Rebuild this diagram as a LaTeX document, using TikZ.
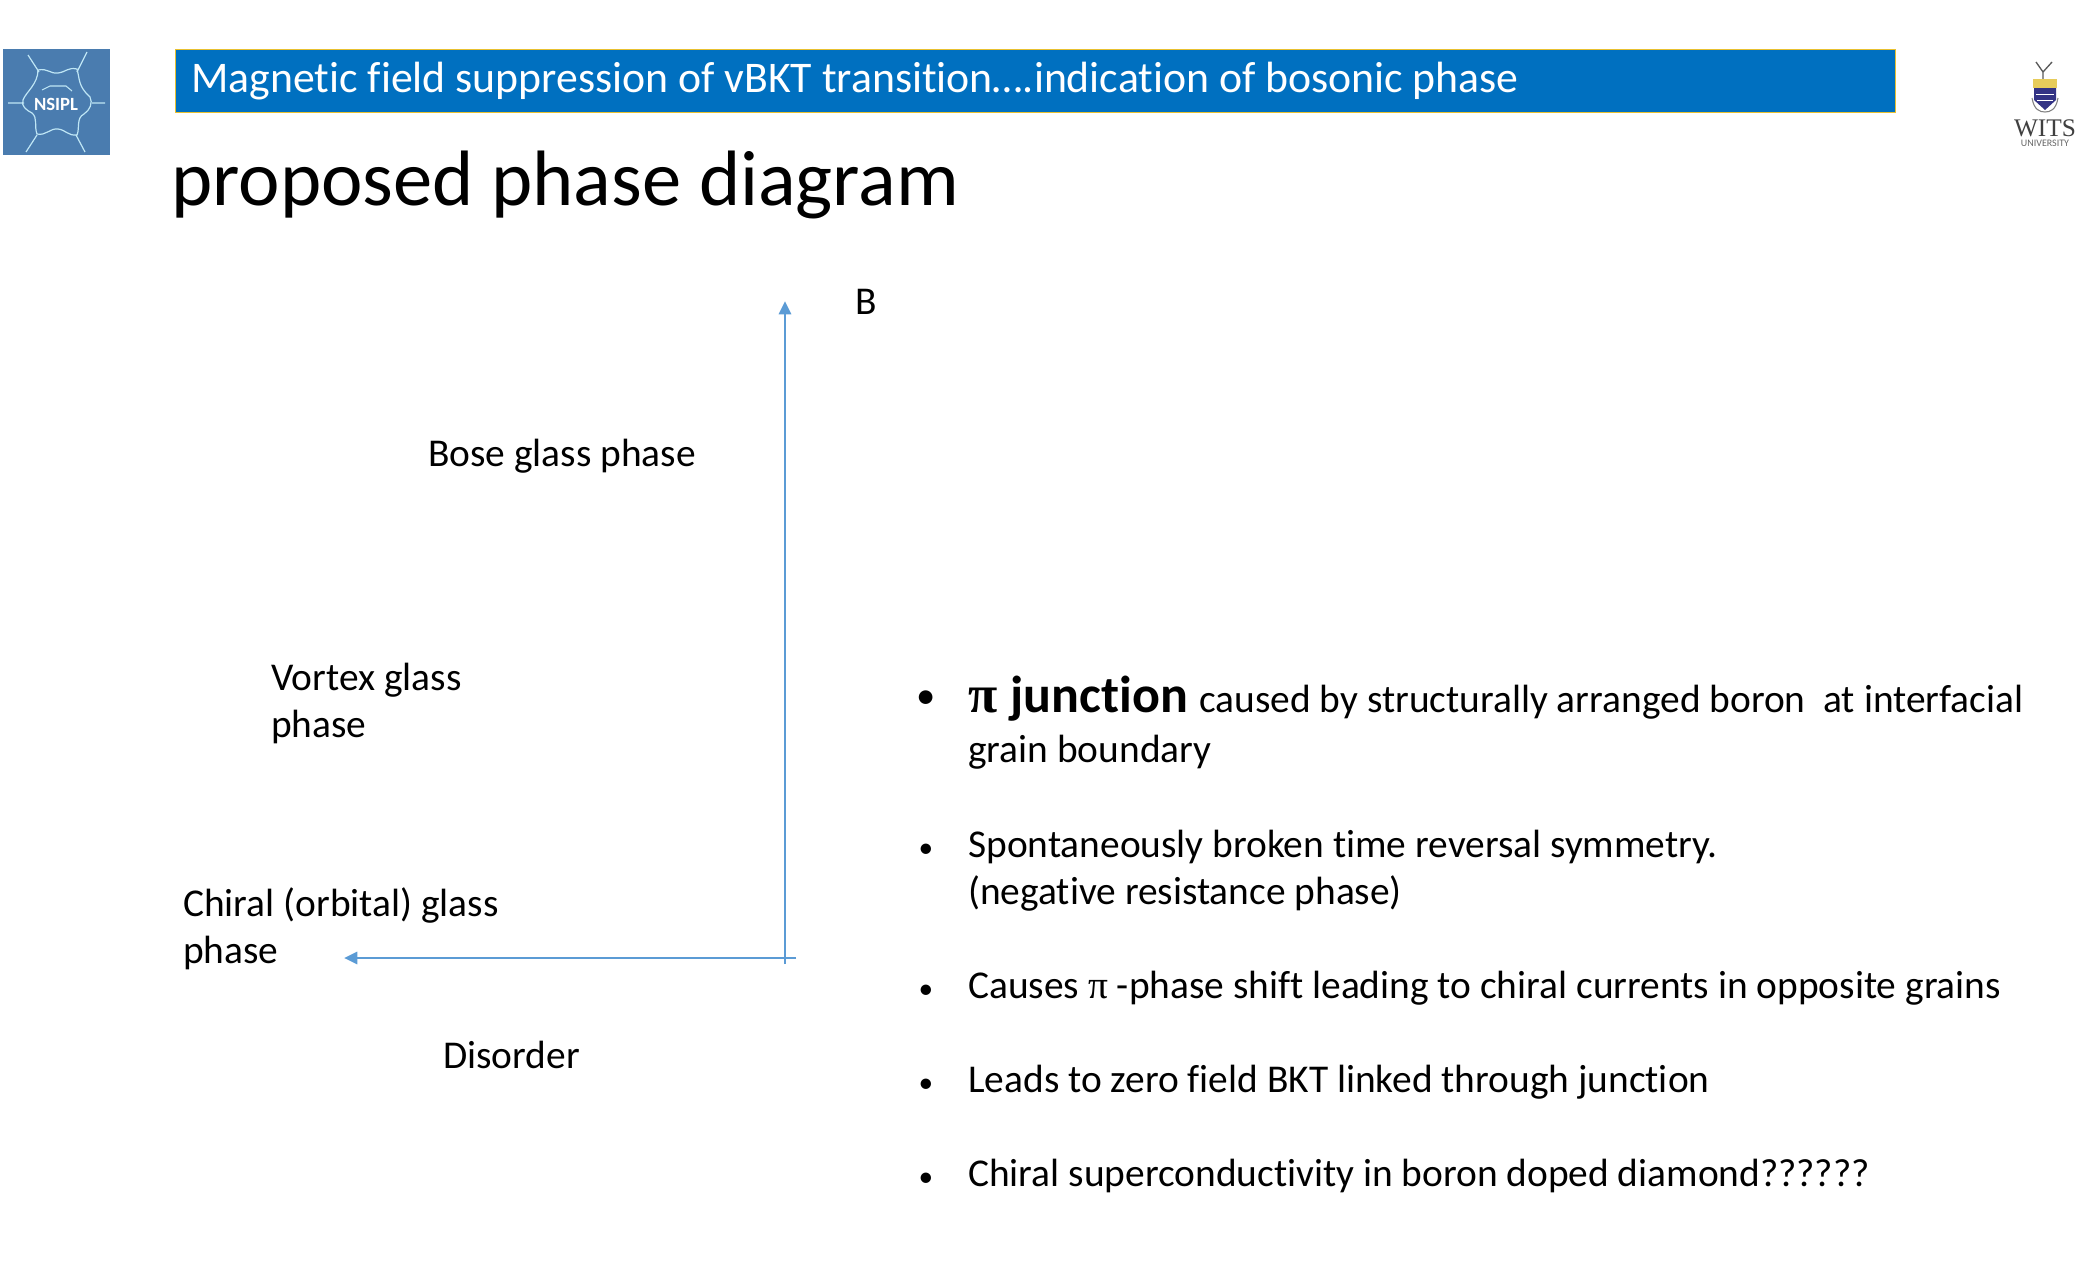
\documentclass[tikz,border=0pt]{standalone}
\usepackage{fontspec}
\setmainfont[Ligatures=NoCommon]{Carlito}
\newfontfamily\symf{Liberation Serif}
\definecolor{banner}{HTML}{0070C0}
\definecolor{gold}{HTML}{E8C030}
\definecolor{axisc}{HTML}{5B9BD5}
\definecolor{logob}{HTML}{4A7CAF}
\definecolor{logol}{HTML}{BFE6F5}
\usetikzlibrary{arrows.meta}
\tikzset{
 body/.style={anchor=base west,inner sep=0pt,font=\fontsize{29.55pt}{34pt}\selectfont,text=black},
 dot/.style={anchor=base,inner sep=0pt,font=\fontsize{22pt}{31pt}\selectfont},
 axisline/.style={draw=axisc,line width=2.2pt,-{Triangle[length=10pt,width=9pt]}},
 spoke/.style={draw=logol,line width=0.9pt},
}
\begin{document}
\begin{tikzpicture}[x=0.75pt,y=-0.75pt]
\useasboundingbox (0,0) rectangle (2100,1275);
% NSIPL logo
\fill[logob] (3,49) rectangle (110,155);
\draw[spoke] (8,103)--(24,103) (92,103)--(105,103)
  (28,55)--(39,72) (87,52)--(77,72) (26,152)--(37,135) (85,152)--(76,135);
\draw[spoke] (38,70) .. controls (48,68) and (50,74) .. (58,73) .. controls (66,72) and (68,67) .. (77,69)
  .. controls (80,80) and (78,86) .. (90,97) .. controls (93,103) and (90,110) .. (84,114)
  .. controls (76,118) and (80,128) .. (77,135) .. controls (68,136) and (66,130) .. (58,129)
  .. controls (50,128) and (46,136) .. (37,134) .. controls (34,126) and (38,118) .. (32,113)
  .. controls (26,110) and (21,106) .. (23,100) .. controls (26,92) and (38,84) .. (38,70) -- cycle;
\node[inner sep=0pt,text=white,font=\bfseries\fontsize{14pt}{14pt}\selectfont] (nsipl) at (56,104) {NSIPL};
\draw[logol,line width=0.8pt] (42,90)--(50,86)--(66,86)--(72,91);
% WITS logo
\fill[gray!60!black] (2037,82)--(2043,92)--(2049,82)--(2046,92)--(2046,98)--(2040,98)--(2040,92)--cycle;
\draw[gray!70!black,line width=1pt] (2036,62)--(2043,72)--(2052,62) (2043,72)--(2043,82);
\fill[yellow!50!brown!80] (2033,79) rectangle (2057,88);
\fill[blue!40!black!80] (2034,88) -- (2056,88) -- (2056,100) -- (2045,110) -- (2034,100) -- cycle;
\draw[white,line width=0.7pt] (2036,94)--(2054,94) (2037,100)--(2053,100);
\draw[gray,line width=0.8pt] (2032,98) .. controls (2034,110) and (2040,112) .. (2045,112) .. controls (2050,112) and (2056,110) .. (2058,98);
\node[inner sep=0pt,text=black!75,font=\symf\fontsize{19pt}{20pt}\selectfont] (wits) at (2045,128) {WITS};
\node[inner sep=0pt,text=black!60,font=\fontsize{7.5pt}{8pt}\selectfont] (univ) at (2045,143) {UNIVERSITY};
% Banner
\node[anchor=north west,inner sep=0pt,minimum width=1720*0.75pt,minimum height=63*0.75pt,fill=banner,draw=gold,line width=1.4pt] (bar) at (174.5,48.5) {};
\node[anchor=base west,inner sep=0pt,text=white,font=\fontsize{32.8pt}{36pt}\selectfont] (bartext) at (191,92) {Magnetic field suppression of vBKT transition….indication of bosonic phase};
\node[anchor=base west,inner sep=0pt,font=\fontsize{58.9pt}{64pt}\selectfont] (title) at (171,205) {proposed phase diagram};
% Axes
\coordinate (ybot) at (785,964);
\coordinate (ytop) at (785,301);
\coordinate (xright) at (796,958);
\coordinate (xleft) at (344,958);
\draw[axisline] (ybot)--(ytop);
\draw[axisline] (xright)--(xleft);
% Labels
\node[body] (bl) at (855,314) {B};
\node[body] (bose) at (428,466) {Bose glass phase};
\node[body] (vort1) at (271,690) {Vortex glass};
\node[body] (vort2) at (271,737) {phase};
\node[body] (chi1) at (183,916) {Chiral (orbital) glass};
\node[body] (chi2) at (183,963) {phase};
\node[body] (dis) at (443,1068) {Disorder};
% Bullets
\node[dot,font=\fontsize{29pt}{36pt}\selectfont] (b1) at (926,708) {•};
\node[body] (t1) at (968,712) {{\symf\bfseries\fontsize{40pt}{44pt}\selectfont π}\hspace{3pt} {\bfseries\fontsize{39pt}{44pt}\selectfont junction}\hspace{2pt} caused by structurally arranged boron\ \ at interfacial};
\node[body] (t1b) at (968,762) {grain boundary};
\node[dot] (b2) at (926,857) {•};
\node[body] (t2) at (968,857) {Spontaneously broken time reversal symmetry.};
\node[body] (t2b) at (968,904) {(negative resistance phase)};
\node[dot] (b3) at (926,998) {•};
\node[body] (t3) at (968,998) {Causes {\symf π} -phase shift leading to chiral currents in opposite grains};
\node[dot] (b4) at (926,1092) {•};
\node[body] (t4) at (968,1092) {Leads to zero field BKT linked through junction};
\node[dot] (b5) at (926,1186) {•};
\node[body] (t5) at (968,1186) {Chiral superconductivity in boron doped diamond??????};
\end{tikzpicture}
\end{document}
